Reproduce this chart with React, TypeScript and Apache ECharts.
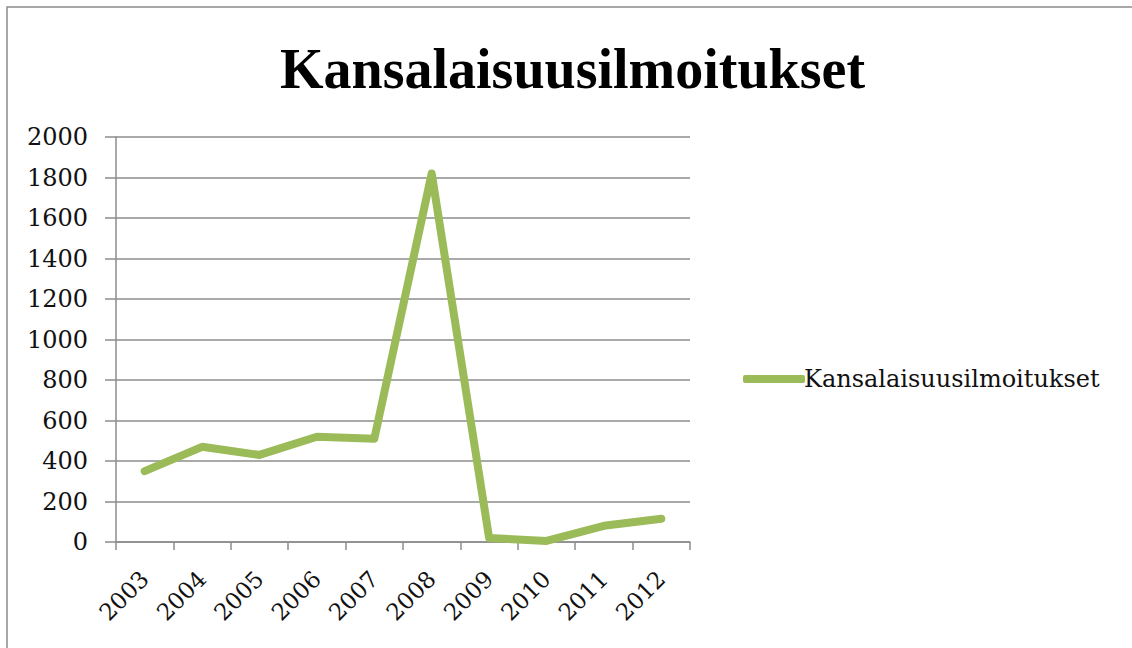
import React, { useEffect, useRef } from "react";
import * as echarts from "echarts";

const years = ["2003", "2004", "2005", "2006", "2007", "2008", "2009", "2010", "2011", "2012"];
const values = [350, 470, 430, 520, 510, 1820, 20, 5, 80, 115];
const seriesName = "Kansalaisuusilmoitukset";
const titleText = "Kansalaisuusilmoitukset";

export default function App() {
  const ref = useRef<HTMLDivElement>(null);
  useEffect(() => {
    if (!ref.current) return;
    const chart = echarts.init(ref.current, null, { renderer: "svg" });
    chart.setOption({
      animation: false,
      backgroundColor: "#ffffff",
      title: {
        text: titleText,
        left: 280,
        top: 41,
        padding: 0,
        textStyle: {
          fontFamily: "Liberation Serif",
          fontWeight: "bold",
          fontSize: 56,
          color: "#000",
        },
      },
      graphic: [
        {
          type: "rect",
          shape: { x: 7, y: 7, width: 1200, height: 700 },
          style: { fill: "none", stroke: "#8c8c8c", lineWidth: 1.5 },
          silent: true,
        },
      ],
      legend: {
        orient: "vertical",
        left: 738,
        top: 362,
        itemWidth: 62,
        itemHeight: 8,
        itemGap: 4,
        icon: "roundRect",
        textStyle: { fontFamily: "DejaVu Serif", fontSize: 24, color: "#111", padding: [0, 0, 0, -6] },
        data: [seriesName],
      },
      grid: { left: 116, right: 442, top: 137, bottom: 106, containLabel: false },
      xAxis: {
        type: "category",
        data: years,
        boundaryGap: true,
        axisLine: { lineStyle: { color: "#8c8c8c", width: 1.5 } },
        axisTick: { show: true, length: 8, lineStyle: { color: "#8c8c8c", width: 1.5 } },
        axisLabel: {
          rotate: 45,
          margin: 33,
          fontFamily: "DejaVu Serif",
          fontSize: 23,
          color: "#111",
        },
      },
      yAxis: {
        type: "value",
        min: 0,
        max: 2000,
        interval: 200,
        axisLine: { show: true, lineStyle: { color: "#8c8c8c", width: 1.5 } },
        axisTick: { show: true, length: 11, lineStyle: { color: "#8c8c8c", width: 1.5 } },
        splitLine: { show: true, lineStyle: { color: "#8c8c8c", width: 1.5 } },
        axisLabel: {
          margin: 28,
          fontFamily: "DejaVu Serif",
          fontSize: 24,
          color: "#111",
          formatter: (v: number) => String(v),
        },
      },
      series: [
        {
          name: seriesName,
          type: "line",
          data: values,
          symbol: "none",
          color: "#9bbb59",
          lineStyle: { width: 8, color: "#9bbb59", cap: "round", join: "round" },
        },
      ],
    });
    return () => chart.dispose();
  }, []);
  return (
    <div
      ref={ref}
      style={{ position: "fixed", left: 0, top: 0, width: 1132, height: 648 }}
    />
  );
}
